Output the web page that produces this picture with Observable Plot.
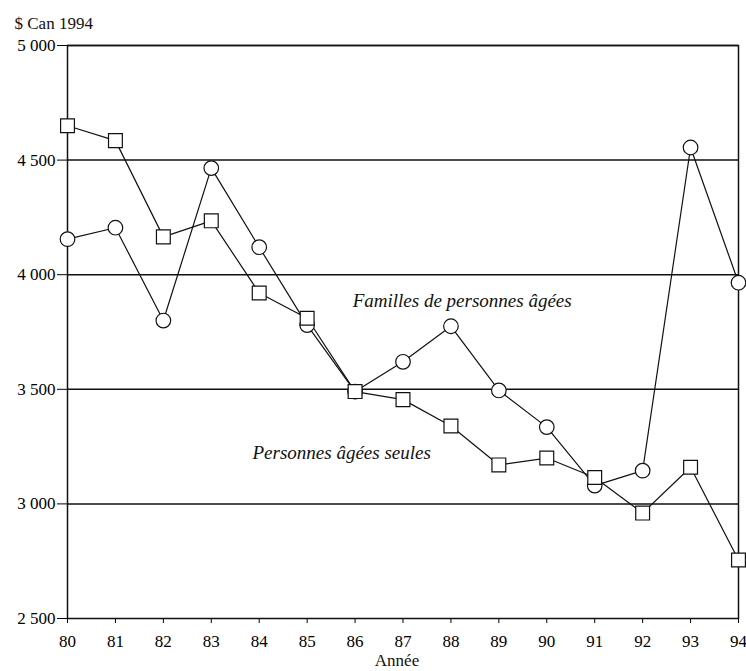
<!DOCTYPE html>
<html>
<head>
<meta charset="utf-8">
<script src="https://cdn.jsdelivr.net/npm/d3@7"></script>
<script src="https://cdn.jsdelivr.net/npm/@observablehq/plot@0.6"></script>
<style>
  html, body { margin: 0; padding: 0; background: #fff; }
  svg text, svg g { font-family: "Liberation Serif", "Times New Roman", serif !important; }
</style>
</head>
<body>
<div id="chart"></div>
<script>
const years = [80, 81, 82, 83, 84, 85, 86, 87, 88, 89, 90, 91, 92, 93, 94];
const familles = [4155, 4205, 3800, 4465, 4120, 3780, 3490, 3620, 3775, 3495, 3335, 3080, 3145, 4555, 3965];
const seules = [4650, 4585, 4165, 4235, 3920, 3810, 3490, 3455, 3340, 3170, 3200, 3115, 2960, 3160, 2755];
const gridValues = [3000, 3500, 4000, 4500, 5000];
const yTitle = "$ Can 1994";
const xTitle = "Année";
const labels = [
  {x: 85.95, y: 3887, text: "Familles de personnes âgées"},
  {x: 83.86, y: 3224, text: "Personnes âgées seules"}
];

const fam = years.map((x, i) => ({x, y: familles[i]}));
const seu = years.map((x, i) => ({x, y: seules[i]}));
const fmt = d3.formatLocale({thousands: " ", grouping: [3], decimal: ","}).format(",d");

const chart = Plot.plot({
  width: 746,
  height: 671,
  marginLeft: 67,
  marginRight: 8,
  marginTop: 45,
  marginBottom: 53,
  style: {fontFamily: "'Liberation Serif', 'Times New Roman', serif", fontSize: "17px", color: "#000", background: "#fff"},
  x: {domain: [80, 94], ticks: 15, tickFormat: d => String(d), tickSize: 5, tickPadding: 11, label: null},
  y: {domain: [2500, 5000], ticks: 5, tickFormat: fmt, tickSize: 10, tickPadding: 2, label: null},
  marks: [
    Plot.ruleY(gridValues, {stroke: "#111", strokeWidth: 1.5}),
    Plot.frame({stroke: "#111", strokeWidth: 1.5}),
    Plot.line(fam, {x: "x", y: "y", stroke: "#111", strokeWidth: 1.2}),
    Plot.line(seu, {x: "x", y: "y", stroke: "#111", strokeWidth: 1.2}),
    Plot.dot(fam, {x: "x", y: "y", r: 7.3, symbol: "circle", fill: "#fff", stroke: "#111", strokeWidth: 1.2}),
    Plot.dot(seu, {x: "x", y: "y", r: 7.8, symbol: "square", fill: "#fff", stroke: "#111", strokeWidth: 1.2}),
    Plot.text(labels, {x: "x", y: "y", text: "text", textAnchor: "start", fontStyle: "italic", fontSize: 19, fill: "#111"}),
    Plot.text([yTitle], {frameAnchor: "top-left", dx: -53, dy: -29, textAnchor: "start", fontSize: 17, fill: "#111"}),
    Plot.text([xTitle], {frameAnchor: "bottom", dx: -6, dy: 47, fontSize: 17, fill: "#111"})
  ]
});
document.getElementById("chart").appendChild(chart);
</script>
</body>
</html>
